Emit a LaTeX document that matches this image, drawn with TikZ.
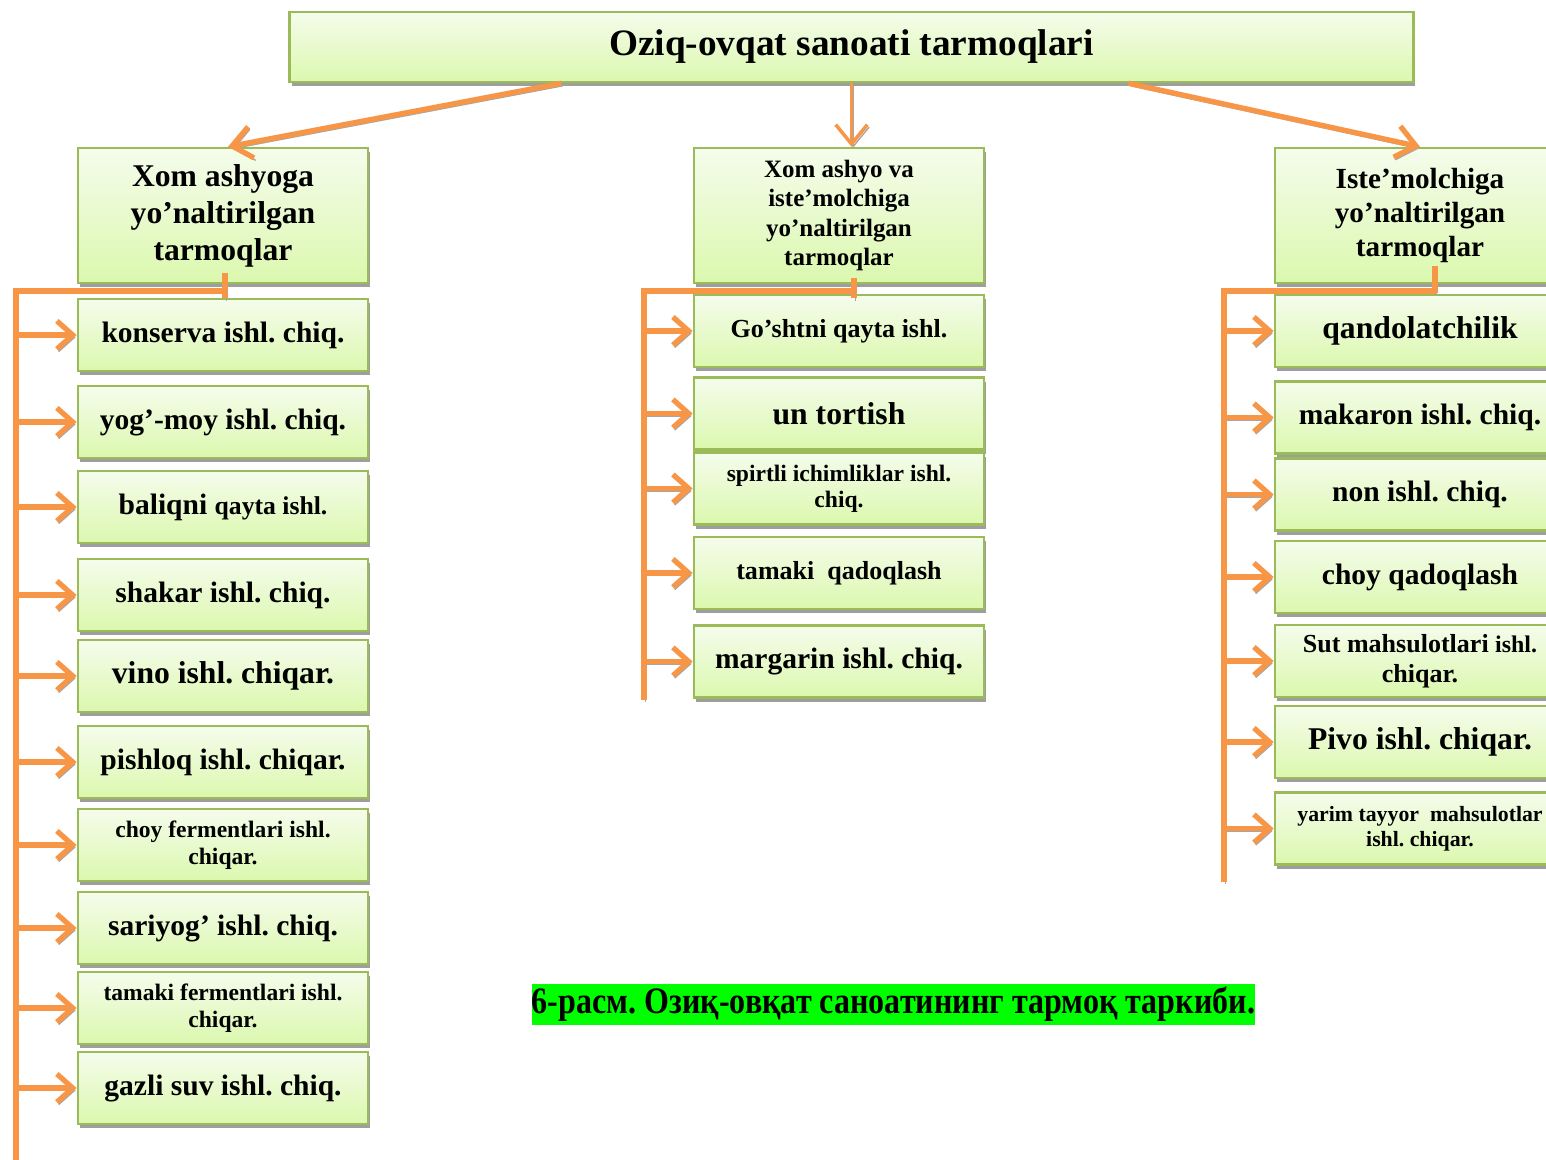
\documentclass[tikz,border=0pt]{standalone}
\usepackage{fontspec}
\setmainfont{Liberation Serif}
\usepackage{xcolor}
\usepackage{tikz}
\usetikzlibrary{arrows.meta,positioning,calc,shadows}
\definecolor{leafTop}{HTML}{F5FCEC}
\definecolor{leafBot}{HTML}{DBF8AE}
\definecolor{leafLine}{HTML}{9BBB59}
\definecolor{flowOrange}{HTML}{F79646}
\definecolor{capGreen}{HTML}{00FF00}
\frenchspacing

\begin{document}
\begin{tikzpicture}[x=0.01cm, y=-0.01cm, font=\bfseries,
  leaf/.style={draw=leafLine, line width=0.7pt, top color=leafTop, bottom color=leafBot,
    minimum width=2.9cm, minimum height=0.72cm, inner sep=1pt, align=center,
    general shadow={fill=black!38, shadow xshift=0.6pt, shadow yshift=-1.2pt}},
  hdbox/.style={leaf, minimum height=1.35cm},
  fA/.style={font=\bfseries\fontsize{9}{10.5}\selectfont},
  fB/.style={font=\bfseries\fontsize{8.4}{9.6}\selectfont},
  fC/.style={font=\bfseries\fontsize{7.4}{8.4}\selectfont},
  fD/.style={font=\bfseries\fontsize{6.7}{7.5}\selectfont},
  flow/.style={draw=flowOrange, line width=1.5pt,
    preaction={draw=black!35, transform canvas={shift={(0.5pt,-0.7pt)}}}},
  feed/.style={flow, -{Straight Barb[length=4.5pt,width=8pt]}},
  down/.style={flow, -{Straight Barb[length=5.5pt,width=9pt]}}]
\useasboundingbox (0,0) rectangle (1546,1159);
\clip (0,0) rectangle (1546,1159);
% --- top level ---
\node[leaf, minimum width=11.23cm, minimum height=0.70cm,
  font=\bfseries\fontsize{10.6}{12}\selectfont] (title) at (851.5,47) {Oziq-ovqat sanoati tarmoqlari};
\node[hdbox, fA] (hdL) at (223,215.5) {Xom ashyoga\\yo’naltirilgan\\tarmoqlar};
\node[hdbox, font=\bfseries\fontsize{7.1}{8.4}\selectfont] (hdM) at (839,215.5) {Xom ashyo va\\iste’molchiga\\yo’naltirilgan\\tarmoqlar};
\node[hdbox, font=\bfseries\fontsize{8.3}{9.7}\selectfont] (hdR) at (1420,215.5) {Iste’molchiga\\yo’naltirilgan\\tarmoqlar};
\draw[down] ([xshift=-2.9cm]title.south) -- ([xshift=0.05cm]hdL.north);
\draw[down, line width=1pt] (title.south) -- (title.south |- hdM.north);
\draw[down] ([xshift=2.77cm]title.south) -- (hdR.north);
% --- left column ---
\node[leaf, fB] (L1) at (223,335) {konserva ishl. chiq.};
\node[leaf, fB] (L2) at (223,422) {yog’-moy ishl. chiq.};
\node[leaf, fB] (L3) at (223,507) {baliqni {\fontsize{7.3}{8}\selectfont qayta ishl.}};
\node[leaf, fB] (L4) at (223,595) {shakar ishl. chiq.};
\node[leaf, fA] (L5) at (223,676) {vino ishl. chiqar.};
\node[leaf, fB] (L6) at (223,762) {pishloq ishl. chiqar.};
\node[leaf, fD] (L7) at (223,845) {choy fermentlari ishl.\\chiqar.};
\node[leaf, fB] (L8) at (223,928) {sariyog’ ishl. chiq.};
\node[leaf, fD] (L9) at (223,1008) {tamaki fermentlari ishl.\\chiqar.};
\node[leaf, fB] (L10) at (223,1088) {gazli suv ishl. chiq.};
\coordinate (jL) at (225,291);
\coordinate (trL) at (16,291);
\coordinate (endL) at (16,1162);
\draw[flow] (jL |- hdL.south) ++(0,-11) -- ++(0,25);
\draw[flow] (jL) -- (trL) -- (endL);
\draw[feed] (L1.west -| trL) -- (L1.west);
\draw[feed] (L2.west -| trL) -- (L2.west);
\draw[feed] (L3.west -| trL) -- (L3.west);
\draw[feed] (L4.west -| trL) -- (L4.west);
\draw[feed] (L5.west -| trL) -- (L5.west);
\draw[feed] (L6.west -| trL) -- (L6.west);
\draw[feed] (L7.west -| trL) -- (L7.west);
\draw[feed] (L8.west -| trL) -- (L8.west);
\draw[feed] (L9.west -| trL) -- (L9.west);
\draw[feed] (L10.west -| trL) -- (L10.west);
% --- middle column ---
\node[leaf, fC] (M1) at (839,331) {Go’shtni qayta ishl.};
\node[leaf, fA] (M2) at (839,413.5) {un tortish};
\node[leaf, fD] (M3) at (839,488.5) {spirtli ichimliklar ishl.\\chiq.};
\node[leaf, fC] (M4) at (839,573) {tamaki~~qadoqlash};
\node[leaf, fB] (M5) at (839,661.5) {margarin ishl. chiq.};
\coordinate (jM) at (854,291);
\coordinate (trM) at (644,291);
\coordinate (endM) at (644,700);
\draw[flow] (jM |- hdM.south) ++(0,-6) -- ++(0,20);
\draw[flow] (jM) -- (trM) -- (endM);
\draw[feed] (M1.west -| trM) -- (M1.west);
\draw[feed] (M2.west -| trM) -- (M2.west);
\draw[feed] (M3.west -| trM) -- (M3.west);
\draw[feed] (M4.west -| trM) -- (M4.west);
\draw[feed] (M5.west -| trM) -- (M5.west);
% --- right column ---
\node[leaf, fA] (R1) at (1420,331) {qandolatchilik};
\node[leaf, fB] (R2) at (1420,417.5) {makaron ishl. chiq.};
\node[leaf, fB] (R3) at (1420,494.5) {non ishl. chiq.};
\node[leaf, fB] (R4) at (1420,577) {choy qadoqlash};
\node[leaf, fC] (R5) at (1420,661) {Sut mahsulotlari {\fontsize{6.8}{8}\selectfont ishl.}\\chiqar.};
\node[leaf, fA] (R6) at (1420,742) {Pivo ishl. chiqar.};
\node[leaf, font=\bfseries\fontsize{6.2}{7.2}\selectfont] (R7) at (1420,828.5) {yarim tayyor~ mahsulotlar\\ishl. chiqar.};
\coordinate (jR) at (1435,291);
\coordinate (trR) at (1224,291);
\coordinate (endR) at (1224,882);
\draw[flow] (jR |- hdR.south) ++(0,-18) -- ++(0,27);
\draw[flow] (jR) -- (trR) -- (endR);
\draw[feed] (R1.west -| trR) -- (R1.west);
\draw[feed] (R2.west -| trR) -- (R2.west);
\draw[feed] (R3.west -| trR) -- (R3.west);
\draw[feed] (R4.west -| trR) -- (R4.west);
\draw[feed] (R5.west -| trR) -- (R5.west);
\draw[feed] (R6.west -| trR) -- (R6.west);
\draw[feed] (R7.west -| trR) -- (R7.west);
% --- caption ---
\node[fill=capGreen, inner xsep=0pt, inner ysep=1pt, font=\bfseries\fontsize{10.6}{11}\selectfont]
  (cap) at (893.5,1004.5) {\scalebox{0.86}[1]{6-расм. Озиқ-овқат саноатининг тармоқ таркиби.}};
\end{tikzpicture}
\end{document}
